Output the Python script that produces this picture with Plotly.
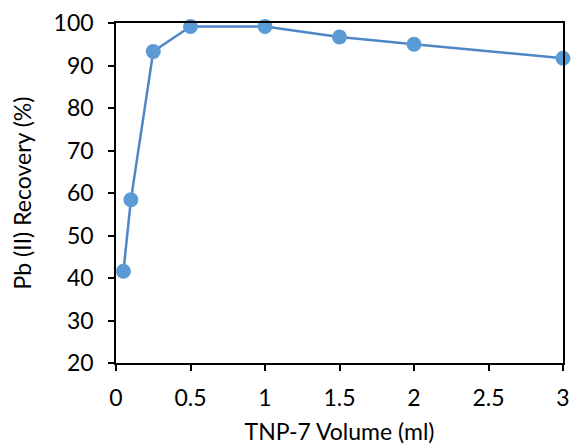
import plotly.graph_objects as go

volume_ml = [0.05, 0.1, 0.25, 0.5, 1.0, 1.5, 2.0, 3.0]
recovery_pct = [41.6, 58.4, 93.3, 99.2, 99.2, 96.7, 95.0, 91.7]

x_ticks = [0, 0.5, 1, 1.5, 2, 2.5, 3]
x_tick_labels = ["0", "0.5", "1", "1.5", "2", "2.5", "3"]
y_ticks = [20, 30, 40, 50, 60, 70, 80, 90, 100]

font_family = "Lato, Liberation Sans"
fs = 23

fig = go.Figure()
fig.add_trace(go.Scatter(
    x=volume_ml, y=recovery_pct, mode="lines+markers",
    line=dict(color="#4F86C6", width=2.5),
    marker=dict(color="#5B9BD5", size=15),
    cliponaxis=False, showlegend=False,
))

fig.update_layout(
    template="none",
    width=573, height=445,
    margin=dict(l=116, r=10, t=23, b=82),
    paper_bgcolor="white", plot_bgcolor="white",
    font=dict(family=font_family, color="black", size=fs),
    xaxis=dict(
        automargin=False,
        range=[0, 3], tickvals=x_ticks, ticktext=x_tick_labels,
        showgrid=False, zeroline=False,
        showline=True, linecolor="black", linewidth=1.5, mirror=True,
        ticks="outside", ticklen=6, tickcolor="black", tickwidth=1.5,
        tickfont=dict(size=fs), ticklabelstandoff=8,
        title=dict(text="TNP-7 Volume (ml)", font=dict(size=fs), standoff=24),
    ),
    yaxis=dict(
        automargin=False,
        range=[20, 100], tickvals=y_ticks,
        showgrid=False, zeroline=False,
        showline=True, linecolor="black", linewidth=1.5, mirror=True,
        ticks="outside", ticklen=6, tickcolor="black", tickwidth=1.5,
        tickfont=dict(size=fs), ticklabelstandoff=10,
        title=dict(text="Pb (II) Recovery (%)", font=dict(size=fs), standoff=16),
    ),
)

fig.write_html(
    "out.html",
    config={"displayModeBar": False},
    post_script="document.body.style.margin='0';document.body.style.overflow='hidden';",
)
